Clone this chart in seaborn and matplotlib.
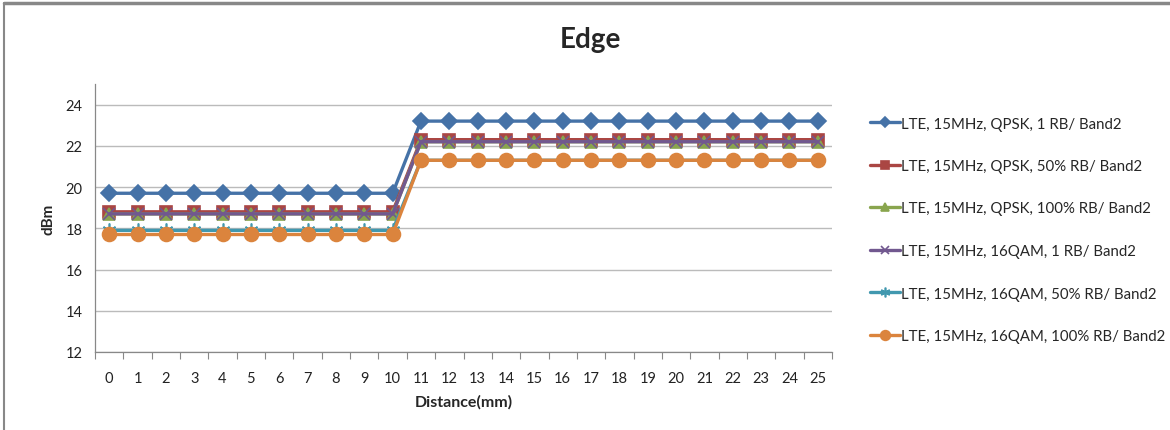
import numpy as np
import pandas as pd
import matplotlib
matplotlib.use("Agg")
import matplotlib.pyplot as plt
import seaborn as sns

sns.set_theme(style="white")
plt.rcParams['font.family'] = ['Lato', 'DejaVu Sans']

# data
distance = list(range(26))
qpsk_1rb = [19.7] * 11 + [23.2] * 15
qpsk_50rb = [18.8] * 11 + [22.3] * 15
qpsk_100rb = [18.7] * 11 + [22.2] * 15
qam16_1rb = [18.7] * 11 + [22.2] * 15
qam16_50rb = [17.9] * 11 + [21.3] * 15
qam16_100rb = [17.7] * 11 + [21.3] * 15

series_names = [
    "LTE, 15MHz, QPSK, 1 RB/ Band2",
    "LTE, 15MHz, QPSK, 50% RB/ Band2",
    "LTE, 15MHz, QPSK, 100% RB/ Band2",
    "LTE, 15MHz, 16QAM, 1 RB/ Band2",
    "LTE, 15MHz, 16QAM, 50% RB/ Band2",
    "LTE, 15MHz, 16QAM, 100% RB/ Band2",
]
series_values = [qpsk_1rb, qpsk_50rb, qpsk_100rb, qam16_1rb, qam16_50rb, qam16_100rb]

colors = ['#4572A7', '#AA4643', '#89A54E', '#71588F', '#4198AF', '#DB843D']
markers = ['D', 's', '^', 'x', (6, 2, 0), 'o']
msizes = [8, 9, 9, 9, 10, 10]

fig = plt.figure(figsize=(11.7, 4.31), dpi=100)
ax = fig.add_axes([95 / 1170, 1 - 353 / 431, (832 - 95) / 1170, (353 - 85) / 431])

for name, vals, c, m, ms in zip(series_names, series_values, colors, markers, msizes):
    df = pd.DataFrame({"Distance": distance, "dBm": vals})
    sns.lineplot(data=df, x="Distance", y="dBm", ax=ax, color=c, linewidth=2.4,
                 marker=m, markersize=ms, markeredgecolor=c, markeredgewidth=1.2,
                 label=name)

ax.set_xlim(-0.5, 25.5)
ax.set_ylim(12, 25)
ax.set_yticks(range(12, 25, 2))
ax.set_xticks(distance)
ax.set_xticks(np.arange(-0.5, 26, 1), minor=True)
ax.tick_params(axis='x', which='major', length=0, pad=14, labelsize=10.5, colors='#222222')
ax.tick_params(axis='x', which='minor', length=5, width=0.8, color='#888888', direction='out',
               bottom=True)
ax.tick_params(axis='y', length=5, width=0.8, color='#888888', direction='out', labelsize=10.5,
               labelcolor='#222222', pad=4)
ax.grid(axis='y', color='#BBBBBB', linewidth=1)
ax.set_axisbelow(True)
for s in ['top', 'right']:
    ax.spines[s].set_visible(False)
for s in ['left', 'bottom']:
    ax.spines[s].set_color('#888888')
    ax.spines[s].set_linewidth(0.9)

ax.set_xlabel("Distance(mm)", fontsize=11.5, fontweight='bold', labelpad=6)
ax.set_ylabel("dBm", fontsize=11, fontweight='bold', labelpad=7)

fig.text(590 / 1170, 1 - 40 / 431, "Edge", fontsize=20, fontweight='bold',
         ha='center', va='center')

handles, labels = ax.get_legend_handles_labels()
ax.legend(handles, labels, loc='upper left', bbox_to_anchor=(862 / 1170, 1 - 110 / 431),
          bbox_transform=fig.transFigure, frameon=False, fontsize=10.8,
          handlelength=2.0, handletextpad=0.1, labelspacing=1.9, borderpad=0,
          markerscale=0.7)

# partial chart border (left and top)
fig.add_artist(plt.Line2D([3.5 / 1170, 3.5 / 1170], [0, 1 - 4 / 431], transform=fig.transFigure,
                          color='#888888', linewidth=1.5))
fig.add_artist(plt.Line2D([3.5 / 1170, 1], [1 - 4 / 431, 1 - 4 / 431], transform=fig.transFigure,
                          color='#888888', linewidth=2.5))

fig.savefig("out.png", dpi=100)
